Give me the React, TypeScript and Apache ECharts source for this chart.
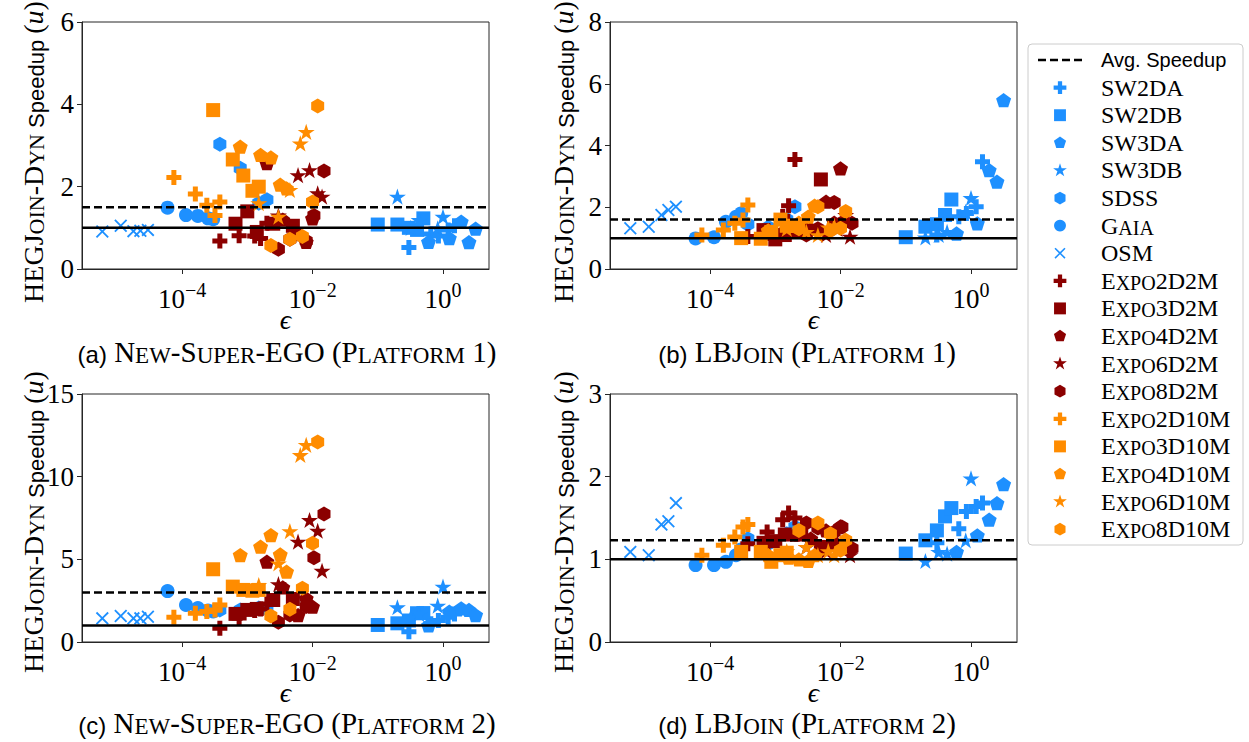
import React, { useEffect, useRef } from "react";
import * as echarts from "echarts";

// ---------------- data ----------------
const X_MIN = 2.93e-6;
const X_MAX = 5.07;
const X_TICKS = [1e-4, 1e-2, 1];
const Y_MAX = [6, 8, 15, 3];
const Y_STEP = [2, 2, 5, 1];
const AVG_SPEEDUP = [1.5, 1.6, 3.0, 1.23];
const BASELINE = 1;
const PANELS = ["a", "b", "c", "d"] as const;

// each dataset: epsilon values and speedups in panels (a) (b) (c) (d)
const SW2DA = { eps: [0.3, 0.65, 0.85, 1.2, 1.5], a: [0.52, 0.85, 0.8, 0.95, 1.05], b: [1.1, 1.69, 1.8, 2.02, 3.47], c: [0.62, 1.1, 1.3, 1.5, 1.7], d: [1.2, 1.37, 1.58, 1.64, 1.68] };
const SW2DB = { eps: [0.1, 0.2, 0.3, 0.4, 0.5], a: [1.08, 1.08, 1.0, 0.95, 1.23], b: [1.03, 1.37, 1.45, 1.75, 2.25], c: [1.03, 1.13, 1.3, 1.74, 1.75], d: [1.07, 1.23, 1.35, 1.52, 1.62] };
const SW3DA = { eps: [0.6, 1.25, 1.9, 2.5, 3.16], a: [0.66, 0.75, 1.15, 0.65, 0.98], b: [1.15, 1.48, 3.2, 2.83, 5.47], c: [1.0, 1.83, 2.04, 1.94, 1.63], d: [1.09, 1.29, 1.48, 1.68, 1.91] };
const SW3DB = { eps: [0.2, 0.32, 0.43, 0.83, 1.0], a: [1.76, 1.0, 1.19, 0.99, 1.27], b: [1.02, 1.1, 1.2, 1.85, 2.3], c: [2.1, 1.5, 1.7, 2.2, 3.35], d: [0.98, 1.09, 1.07, 1.23, 1.98] };
const SDSS = { eps: [3.8e-4, 7.8e-4, 1.5e-3, 2e-3], a: [3.03, 2.45, 1.6, 1.68], b: [1.45, 1.35, 1.6, 2.02], c: [1.94, 1.94, 2.05, 2.0], d: [1.25, 1.19, 1.31, 1.39] };
const GAIA = { eps: [6e-5, 1.15e-4, 1.75e-4, 2.5e-4, 3e-4], a: [1.49, 1.31, 1.29, 1.23, 1.21], b: [0.99, 1.03, 1.53, 1.69, 1.8], c: [3.08, 2.24, 2.05, 1.9, 1.85], d: [0.93, 0.93, 0.97, 1.05, 1.12] };
const OSM = { eps: [6e-6, 1.15e-5, 1.8e-5, 2.3e-5, 3e-5], a: [0.91, 1.05, 0.92, 0.93, 0.95], b: [1.32, 1.37, 1.75, 1.91, 2.02], c: [1.43, 1.57, 1.43, 1.43, 1.53], d: [1.09, 1.05, 1.42, 1.46, 1.68] };
const EXPO2D2M = { eps: [3.8e-4, 7.5e-4, 1.3e-3, 1.6e-3, 2e-3], a: [0.68, 0.81, 0.8, 0.74, 1.11], b: [1.05, 1.15, 1.7, 2.05, 3.55], c: [0.83, 1.45, 1.9, 2.0, 2.3], d: [1.19, 1.33, 1.48, 1.56, 1.5] };
const EXPO3D2M = { eps: [6.6e-4, 1e-3, 1.4e-3, 2.5e-3, 5e-3], a: [1.1, 1.4, 0.9, 1.1, 1.05], b: [1.26, 0.96, 1.1, 1.3, 2.9], c: [1.7, 1.94, 2.0, 2.54, 2.6], d: [1.2, 1.22, 1.3, 1.3, 1.15] };
const EXPO4D2M = { eps: [2e-3, 3.5e-3, 6e-3, 8e-3, 1e-2], a: [2.57, 1.2, 0.85, 0.66, 1.23], b: [1.2, 1.3, 2.18, 1.5, 3.26], c: [4.86, 3.3, 1.63, 2.64, 2.14], d: [1.3, 1.25, 1.35, 1.2, 1.4] };
const EXPO6D2M = { eps: [3e-3, 6e-3, 9e-3, 1.2e-2, 1.4e-2], a: [1.3, 2.28, 2.4, 1.84, 1.76], b: [1.2, 1.1, 1.3, 1.75, 1.05], c: [3.5, 6.07, 7.38, 6.73, 4.31], d: [1.15, 1.1, 1.2, 1.15, 1.05] };
const EXPO8D2M = { eps: [3e-3, 4.5e-3, 8e-3, 1.05e-2, 1.5e-2], a: [0.48, 0.72, 0.68, 1.3, 2.38], b: [1.1, 1.3, 2.15, 1.5, 1.48], c: [1.2, 1.63, 2.14, 5.1, 7.74], d: [1.44, 1.38, 1.33, 1.39, 1.13] };
const EXPO2D10M = { eps: [7.5e-5, 1.6e-4, 2.4e-4, 3.2e-4, 3.8e-4], a: [2.22, 1.82, 1.55, 1.3, 1.63], b: [1.1, 1.26, 1.48, 1.59, 2.07], c: [1.49, 1.74, 1.84, 1.94, 2.24], d: [1.05, 1.17, 1.27, 1.39, 1.42] };
const EXPO3D10M = { eps: [3e-4, 6e-4, 8.7e-4, 1.2e-3, 1.5e-3], a: [3.86, 2.66, 2.27, 1.9, 2.0], b: [1.0, 0.98, 1.2, 1.6, 1.4], c: [4.4, 3.35, 3.15, 3.1, 3.15], d: [1.09, 1.09, 0.97, 1.05, 1.08] };
const EXPO4D10M = { eps: [7.8e-4, 1.6e-3, 2.3e-3, 3.2e-3, 4e-3], a: [2.97, 2.77, 2.71, 2.05, 1.96], b: [1.25, 1.4, 1.5, 1.7, 2.05], c: [5.26, 5.77, 6.47, 5.3, 4.25], d: [1.05, 1.02, 1.0, 0.98, 1.05] };
const EXPO6D10M = { eps: [1.5e-3, 3e-3, 4.5e-3, 6.5e-3, 8e-3], a: [1.6, 1.27, 1.92, 3.05, 3.33], b: [1.3, 1.2, 1.1, 1.35, 1.4], c: [3.45, 4.76, 6.71, 11.31, 11.92], d: [1.1, 1.15, 1.05, 1.1, 1.05] };
const EXPO8D10M = { eps: [2.3e-3, 4.5e-3, 7e-3, 1e-2, 1.2e-2], a: [0.57, 0.72, 0.79, 1.63, 3.96], b: [1.3, 2.02, 1.25, 1.32, 1.86], c: [1.57, 1.98, 3.25, 5.97, 12.1], d: [1.35, 1.44, 1.31, 1.11, 1.23] };

// ---------------- styling ----------------
const BLUE = "#1E90FF";
const RED = "#8B0000";
const ORANGE = "#FF8C00";
const INK = "#000";
const FRAME = "#262626";
const SERIF = "'Liberation Serif', 'DejaVu Serif', serif";
const SANS = "'Liberation Sans', 'DejaVu Sans', sans-serif";

type Pt = [number, number];
const regPoly = (n: number, r: number): Pt[] =>
  Array.from({ length: n }, (_, i) => {
    const a = -Math.PI / 2 + (i * 2 * Math.PI) / n;
    return [r * Math.cos(a), r * Math.sin(a)] as Pt;
  });
const starPts = (): Pt[] =>
  Array.from({ length: 10 }, (_, i) => {
    const a = -Math.PI / 2 + (i * Math.PI) / 5;
    const r = i % 2 === 0 ? 0.5 : 0.5 * 0.381966;
    return [r * Math.cos(a), r * Math.sin(a)] as Pt;
  });
const XD = 0.1;
const SHAPE_PTS: Record<string, Pt[]> = {
  plus: ([[-1, -3], [1, -3], [1, -1], [3, -1], [3, 1], [1, 1], [1, 3], [-1, 3], [-1, 1], [-3, 1], [-3, -1], [-1, -1]] as Pt[]).map(([x, y]) => [x / 6, y / 6] as Pt),
  square: [[-0.5, -0.5], [0.5, -0.5], [0.5, 0.5], [-0.5, 0.5]],
  pentagon: regPoly(5, 0.5),
  star: starPts(),
  hexagon: regPoly(6, 0.5),
  x: [[-0.5, -0.5 + XD], [-0.5 + XD, -0.5], [0, -XD], [0.5 - XD, -0.5], [0.5, -0.5 + XD], [XD, 0], [0.5, 0.5 - XD], [0.5 - XD, 0.5], [0, XD], [-0.5 + XD, 0.5], [-0.5, 0.5 - XD], [-XD, 0]],
};
const toPath = (pts: Pt[]) =>
  "path://M" + pts.map((p) => `${(p[0] * 100 + 50).toFixed(2)},${(p[1] * 100 + 50).toFixed(2)}`).join("L") + "Z";
const symbolFor = (shape: string) => (shape === "circle" ? "circle" : shape === "square" ? "rect" : toPath(SHAPE_PTS[shape]));
const SIZE: Record<string, number> = { plus: 15, square: 14, pentagon: 15, star: 17, hexagon: 15, circle: 14, x: 13 };

const SERIES_META = [
  { name: "SW2DA", label: "{rm|SW2DA}", color: BLUE, shape: "plus", rows: SW2DA },
  { name: "SW2DB", label: "{rm|SW2DB}", color: BLUE, shape: "square", rows: SW2DB },
  { name: "SW3DA", label: "{rm|SW3DA}", color: BLUE, shape: "pentagon", rows: SW3DA },
  { name: "SW3DB", label: "{rm|SW3DB}", color: BLUE, shape: "star", rows: SW3DB },
  { name: "SDSS", label: "{rm|SDSS}", color: BLUE, shape: "hexagon", rows: SDSS },
  { name: "Gaia", label: "{rm|G}{sc|AIA}", color: BLUE, shape: "circle", rows: GAIA },
  { name: "OSM", label: "{rm|OSM}", color: BLUE, shape: "x", rows: OSM },
  { name: "Expo2D2M", label: "{rm|E}{sc|XPO}{rm|2D2M}", color: RED, shape: "plus", rows: EXPO2D2M },
  { name: "Expo3D2M", label: "{rm|E}{sc|XPO}{rm|3D2M}", color: RED, shape: "square", rows: EXPO3D2M },
  { name: "Expo4D2M", label: "{rm|E}{sc|XPO}{rm|4D2M}", color: RED, shape: "pentagon", rows: EXPO4D2M },
  { name: "Expo6D2M", label: "{rm|E}{sc|XPO}{rm|6D2M}", color: RED, shape: "star", rows: EXPO6D2M },
  { name: "Expo8D2M", label: "{rm|E}{sc|XPO}{rm|8D2M}", color: RED, shape: "hexagon", rows: EXPO8D2M },
  { name: "Expo2D10M", label: "{rm|E}{sc|XPO}{rm|2D10M}", color: ORANGE, shape: "plus", rows: EXPO2D10M },
  { name: "Expo3D10M", label: "{rm|E}{sc|XPO}{rm|3D10M}", color: ORANGE, shape: "square", rows: EXPO3D10M },
  { name: "Expo4D10M", label: "{rm|E}{sc|XPO}{rm|4D10M}", color: ORANGE, shape: "pentagon", rows: EXPO4D10M },
  { name: "Expo6D10M", label: "{rm|E}{sc|XPO}{rm|6D10M}", color: ORANGE, shape: "star", rows: EXPO6D10M },
  { name: "Expo8D10M", label: "{rm|E}{sc|XPO}{rm|8D10M}", color: ORANGE, shape: "hexagon", rows: EXPO8D10M },
];

const GRID_BOXES = [
  { left: 82, top: 22, width: 407, height: 247 },
  { left: 610, top: 22, width: 407, height: 247 },
  { left: 82, top: 394, width: 407, height: 248 },
  { left: 610, top: 394, width: 407, height: 248 },
];
const CAPTIONS = [
  { x: 287, y: 352, text: "{sans|(a)}{rm| N}{sc|EW}{rm|-S}{sc|UPER}{rm|-EGO (P}{sc|LATFORM}{rm| 1)}" },
  { x: 807, y: 352, text: "{sans|(b)}{rm| LBJ}{sc|OIN}{rm| (P}{sc|LATFORM}{rm| 1)}" },
  { x: 287, y: 723, text: "{sans|(c)}{rm| N}{sc|EW}{rm|-S}{sc|UPER}{rm|-EGO (P}{sc|LATFORM}{rm| 2)}" },
  { x: 807, y: 723, text: "{sans|(d)}{rm| LBJ}{sc|OIN}{rm| (P}{sc|LATFORM}{rm| 2)}" },
];
const Y_TITLE = "{rm|HEGJ}{sc|OIN}{rm|-D}{sc|YN}{sans| Speedup }{rm|(}{it|u}{rm|)}";
const Y_TITLE_POS = [
  { x: 33, y: 152 },
  { x: 563, y: 152 },
  { x: 33, y: 522 },
  { x: 563, y: 522 },
];

const richSet = (size: number, sansSize: number, scRatio = 0.8) => {
  const sc = Math.round(size * scRatio);
  return {
    rm: { fontFamily: SERIF, fontSize: size, lineHeight: size, verticalAlign: "bottom", color: INK },
    sc: { fontFamily: SERIF, fontSize: sc, lineHeight: sc, verticalAlign: "bottom", color: INK },
    sans: { fontFamily: SANS, fontSize: sansSize, lineHeight: sansSize, verticalAlign: "bottom", color: INK },
    it: { fontFamily: SERIF, fontStyle: "italic", fontSize: size, lineHeight: size, verticalAlign: "bottom", color: INK },
  };
};

const fmtPow = (v: number) => {
  const e = v > 0 ? Math.round(Math.log10(v)) : Math.round(v);
  return "{b|10}{s|" + (e < 0 ? "\u2212" + -e : String(e)) + "}";
};

function buildOption() {
  const grid = GRID_BOXES.map((g) => ({
    ...g,
    show: true,
    borderColor: FRAME,
    borderWidth: 1,
    backgroundColor: "#fff",
    containLabel: false,
    outerBoundsMode: "none",
  }));

  const xAxis = GRID_BOXES.map((_, i) => ({
    type: "log",
    logBase: 10,
    gridIndex: i,
    min: X_MIN,
    max: X_MAX,
    axisLine: { show: true, onZero: false, lineStyle: { color: FRAME, width: 1 } },
    axisTick: { show: true, inside: false, length: 5, customValues: X_TICKS, lineStyle: { color: FRAME, width: 1 } },
    minorTick: { show: false },
    splitLine: { show: false },
    minorSplitLine: { show: false },
    axisLabel: {
      customValues: X_TICKS,
      margin: 11,
      formatter: fmtPow,
      rich: {
        b: { fontFamily: SERIF, fontSize: 27, lineHeight: 32, verticalAlign: "bottom", color: INK },
        s: { fontFamily: SERIF, fontSize: 20, lineHeight: 20, verticalAlign: "top", color: INK },
      },
    },
    name: "\u03F5",
    nameLocation: "middle",
    nameGap: 40,
    nameMoveOverlap: false,
    nameTextStyle: { fontFamily: SERIF, fontStyle: "italic", fontSize: 28, lineHeight: 20, color: INK },
  }));

  const yAxis = GRID_BOXES.map((_, i) => ({
    type: "value",
    gridIndex: i,
    min: 0,
    max: Y_MAX[i],
    interval: Y_STEP[i],
    axisLine: { show: true, onZero: false, lineStyle: { color: FRAME, width: 1 } },
    axisTick: { show: true, inside: false, length: 5, lineStyle: { color: FRAME, width: 1 } },
    splitLine: { show: false },
    axisLabel: { fontFamily: SERIF, fontSize: 27, color: INK, margin: 8 },
  }));

  const series: any[] = [];
  PANELS.forEach((key, i) => {
    SERIES_META.forEach((m) => {
      const rows: any = m.rows;
      series.push({
        type: "scatter",
        name: m.name,
        xAxisIndex: i,
        yAxisIndex: i,
        symbol: symbolFor(m.shape),
        symbolSize: SIZE[m.shape],
        symbolKeepAspect: true,
        itemStyle: { color: m.color, opacity: 1 },
        emphasis: { disabled: true },
        silent: true,
        z: 2,
        data: rows.eps.map((e: number, k: number) => [e, rows[key][k]]),
      });
    });
    series.push({
      type: "line",
      name: "Baseline",
      xAxisIndex: i,
      yAxisIndex: i,
      symbol: "none",
      silent: true,
      z: 5,
      lineStyle: { color: "#000", width: 2.5 },
      data: [[X_MIN, BASELINE], [X_MAX, BASELINE]],
    });
    series.push({
      type: "line",
      name: "Avg. Speedup",
      xAxisIndex: i,
      yAxisIndex: i,
      symbol: "none",
      silent: true,
      z: 5,
      lineStyle: { color: "#000", width: 2.5, type: [8, 4] },
      data: [[X_MIN, AVG_SPEEDUP[i]], [X_MAX, AVG_SPEEDUP[i]]],
    });
  });

  // legend (drawn as graphic)
  const LX = 1028, LY = 44, LW = 215, LH = 501;
  const rowY = (r: number) => 60 + r * 27.6;
  const legendEls: any[] = [
    { type: "rect", shape: { x: LX, y: LY, width: LW, height: LH, r: 4 }, style: { fill: "#fff", stroke: "#cccccc", lineWidth: 1 }, z: 10 },
    { type: "line", shape: { x1: 1038, y1: rowY(0), x2: 1082, y2: rowY(0) }, style: { stroke: "#000", lineWidth: 2.5, lineDash: [8, 4] }, z: 11 },
    { type: "text", x: 1101, y: rowY(0), style: { text: "Avg. Speedup", fontFamily: SANS, fontSize: 20, fill: INK, align: "left", verticalAlign: "middle" }, z: 11 },
  ];
  SERIES_META.forEach((m, idx) => {
    const cy = rowY(idx + 1);
    const cx = 1060;
    const s = SIZE[m.shape] * 0.85;
    if (m.shape === "circle") {
      legendEls.push({ type: "circle", shape: { cx, cy, r: s / 2 }, style: { fill: m.color }, z: 11 });
    } else {
      const pts = SHAPE_PTS[m.shape].map((p) => [cx + p[0] * s, cy + p[1] * s]);
      legendEls.push({ type: "polygon", shape: { points: pts }, style: { fill: m.color }, z: 11 });
    }
    legendEls.push({
      type: "text",
      x: 1101,
      y: cy,
      style: { text: m.label, rich: richSet(24, 20, 0.82), align: "left", verticalAlign: "middle", fill: INK },
      z: 11,
    });
  });

  const captionEls = CAPTIONS.map((c) => ({
    type: "text",
    x: c.x,
    y: c.y,
    style: { text: c.text, rich: richSet(29, 24, 0.8), align: "center", verticalAlign: "middle", fill: INK },
    z: 11,
  }));

  const yTitleEls = Y_TITLE_POS.map((p) => ({
    type: "text",
    x: p.x,
    y: p.y,
    rotation: Math.PI / 2,
    style: { text: Y_TITLE, rich: richSet(28, 22, 0.8), align: "center", verticalAlign: "middle", fill: INK },
    z: 11,
  }));

  return {
    animation: false,
    backgroundColor: "#fff",
    grid,
    xAxis,
    yAxis,
    series,
    graphic: [...legendEls, ...captionEls, ...yTitleEls],
  };
}

export default function App() {
  const ref = useRef<HTMLDivElement>(null);
  useEffect(() => {
    if (!ref.current) return;
    const chart = echarts.init(ref.current, null, { renderer: "svg" });
    chart.setOption(buildOption() as any);
    return () => chart.dispose();
  }, []);
  return (
    <div
      ref={ref}
      style={{ position: "fixed", left: 0, top: 0, width: "1249px", height: "742px", background: "#fff" }}
    />
  );
}
